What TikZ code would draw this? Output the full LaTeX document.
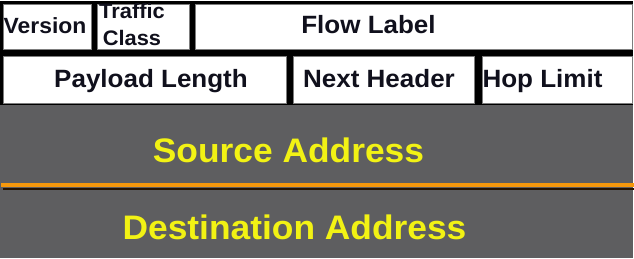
\documentclass[tikz,border=0pt]{standalone}
\usepackage{fontspec}
\setmainfont{Liberation Sans}
\newfontfamily\fieldfont[FakeStretch=1.04]{Liberation Sans}
\usetikzlibrary{positioning}

\definecolor{addrgray}{RGB}{94,94,96}
\definecolor{addryellow}{RGB}{242,242,20}
\definecolor{lineorange}{RGB}{246,152,12}
\definecolor{fieldedge}{RGB}{125,125,125}
\definecolor{labelink}{RGB}{16,16,28}

\begin{document}
\begin{tikzpicture}[
          x=1pt, y=-1pt,
          field/.style={rectangle, draw=fieldedge, fill=white, line width=0.8pt, inner sep=0pt, minimum height=45pt},
          fieldtext/.style={anchor=base, inner sep=0pt, text=labelink, font=\fieldfont\bfseries\fontsize{25}{27}\selectfont},
          addrtext/.style={anchor=base, inner sep=0pt, text=addryellow, font=\fieldfont\bfseries\fontsize{34}{36}\selectfont}
        ]
          \useasboundingbox (0,0) rectangle (634,258);
          \fill[white] (0,0) rectangle (634,258);
          % black frame behind the header fields, grey address block below
          \fill[black] (0,0.5) rectangle (632.5,106);
          \fill[addrgray] (0,105) rectangle (632.5,258);

          % first row
          \node[field, anchor=north west, minimum width=88pt] (version) at (3,4) {};
          \node[field, minimum width=92pt, right=5pt of version] (traffic) {};
          \node[field, minimum width=437pt, right=5pt of traffic] (flow) {};
          % second row
          \node[field, minimum width=283pt, minimum height=47pt, below=6pt of version.south west, anchor=north west] (payload) {};
          \node[field, minimum width=181pt, minimum height=47pt, right=6pt of payload] (nexthdr) {};
          \node[field, minimum width=150pt, minimum height=47pt, right=7pt of nexthdr] (hoplimit) {};

          \node[fieldtext, font=\fieldfont\bfseries\fontsize{22}{24}\selectfont] (versiontxt) at (45,33) {Version};
          \node[fieldtext, anchor=center, align=center, font=\fieldfont\bfseries\fontsize{21}{27}\selectfont] (traffictxt) at (132,24) {Traffic\\Class};
          \node[fieldtext] (flowtxt) at (368.5,33) {Flow Label};
          \node[fieldtext] (payloadtxt) at (151,87.5) {Payload Length};
          \node[fieldtext] (nexthdrtxt) at (379,87.5) {Next Header};
          \node[fieldtext] (hoplimittxt) at (542.5,87.5) {Hop Limit};
          \fill[black] (0,0.5) rectangle (632.5,3);

          % split between the two addresses
          \draw[black!85!orange, line width=2pt] (3,188.5) -- (634,188.5);
          \draw[lineorange, line width=4pt] (1,185) -- (634,185);

          \node[addrtext] (source) at (288.5,162) {Source Address};
          \node[addrtext] (dest) at (294.5,239) {Destination Address};
        \end{tikzpicture}
\end{document}
